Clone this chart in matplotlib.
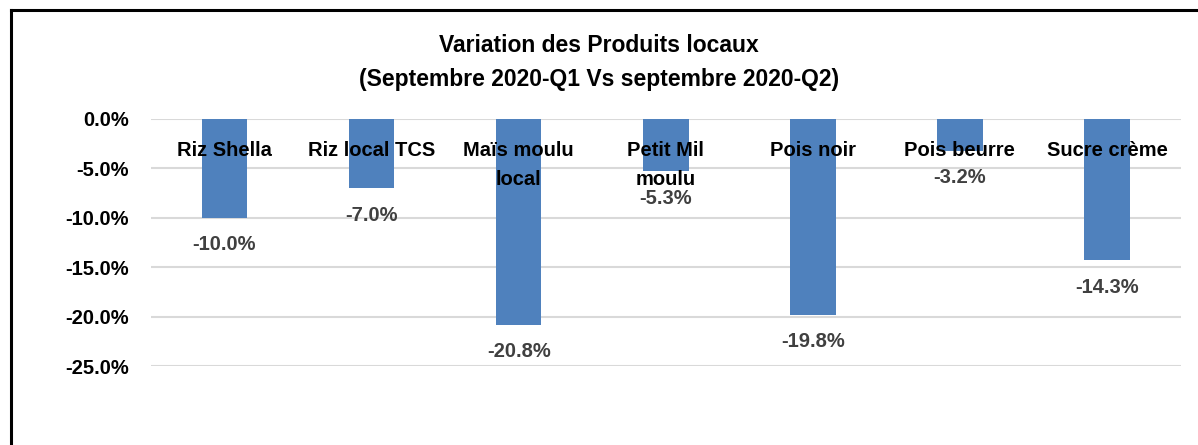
import matplotlib.pyplot as plt
from matplotlib.lines import Line2D
from matplotlib.ticker import FuncFormatter

categories = ["Riz Shella", "Riz local TCS", "Maïs moulu\nlocal", "Petit Mil\nmoulu",
              "Pois noir", "Pois beurre", "Sucre crème"]
variation = [-10.0, -7.0, -20.8, -5.3, -19.8, -3.2, -14.3]
yticks = [0, -5, -10, -15, -20, -25]

plt.rcParams['font.family'] = ['Liberation Sans', 'DejaVu Sans']

fig = plt.figure(figsize=(11.98, 4.45), dpi=100)
ax = fig.add_axes([0.126, 0.1775, 0.8594, 0.5551])

x = range(len(categories))
ax.bar(x, variation, width=0.31, color='#4F81BD', zorder=3)

ax.set_xlim(-0.5, len(categories) - 0.5)
ax.set_ylim(-25, 0)
ax.set_yticks(yticks)
ax.yaxis.set_major_formatter(FuncFormatter(lambda v, p: f"{v:.1f}%"))
ax.tick_params(axis='y', length=0, labelsize=14.5, pad=16)
for lab in ax.get_yticklabels():
    lab.set_fontweight('bold')
ax.set_xticks([])
ax.grid(axis='y', color='#D9D9D9', linewidth=1.5, zorder=0)
ax.set_axisbelow(True)
for s in ax.spines.values():
    s.set_visible(False)

# category labels just below zero line
for i, c in enumerate(categories):
    ax.annotate(c, (i, 0), xytext=(0, -22), textcoords='offset pixels',
                ha='center', va='top', fontsize=14.5, fontweight='bold',
                color='black', linespacing=1.7, zorder=5)

# value labels below bars
for i, v in enumerate(variation):
    ax.annotate(f"{v:.1f}%", (i, v), xytext=(0, -27), textcoords='offset pixels',
                ha='center', va='center', fontsize=14.5, fontweight='bold',
                color='#404040', zorder=5)

fig.text(0.5, 0.8596, "Variation des Produits locaux\n(Septembre 2020-Q1 Vs septembre 2020-Q2)",
         ha='center', va='center', fontsize=16.5, fontweight='bold', linespacing=1.65)

# chart frame (top and left edges visible)
fig.add_artist(Line2D([11 / 1198, 1.0], [1 - 10 / 445, 1 - 10 / 445],
                      transform=fig.transFigure, color='black', linewidth=2.2))
fig.add_artist(Line2D([11 / 1198, 11 / 1198], [0, 1 - 10 / 445],
                      transform=fig.transFigure, color='black', linewidth=2.2))

fig.savefig('out.png', dpi=100)
